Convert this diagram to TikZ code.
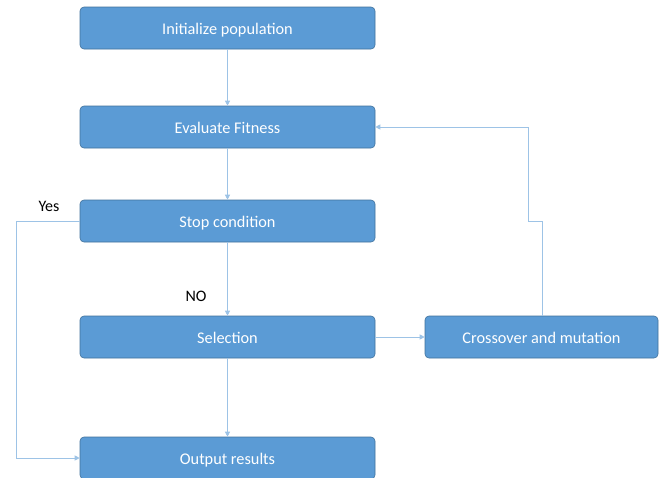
\documentclass[tikz,border=0pt]{standalone}
\usepackage{fontspec}
\setmainfont{Carlito}
\usetikzlibrary{arrows.meta}
\definecolor{boxfill}{HTML}{5B9BD5}
\definecolor{boxline}{HTML}{41719C}
\definecolor{conn}{HTML}{9DC3E6}
\begin{document}
\begin{tikzpicture}[x=1pt,y=-1pt,
  box/.style={draw=boxline,line width=0.6pt,fill=boxfill,rounded corners=4pt,text=white,font=\fontsize{16.3}{18}\selectfont,inner sep=0pt,text height=15pt,text depth=3pt},
  mainbox/.style={box,minimum width=295pt,minimum height=42pt},
  conline/.style={draw=conn,line width=0.9pt,-{Triangle[width=5pt,length=5pt]}},
  lab/.style={font=\fontsize{16}{18}\selectfont,text=black}]
\useasboundingbox (0,0) rectangle (666,477);
\node[mainbox] (init) at (227.5,28) {Initialize population};
\node[mainbox] (eval) at (227.5,127) {Evaluate Fitness};
\node[mainbox] (stop) at (227.5,221) {Stop condition};
\node[mainbox] (sel) at (227.5,337) {Selection};
\node[box,minimum width=233pt,minimum height=42pt] (cross) at (541.5,337) {Crossover and mutation};
\node[mainbox] (out) at (227.5,458) {Output results};
\node[lab] (yes) at (49,206) {Yes};
\node[lab] (no) at (196,296) {NO};
\coordinate (yl1) at (16,221);
\coordinate (yl2) at (16,458);
\coordinate (c1) at (542,221);
\coordinate (c2) at (528,221);
\coordinate (c3) at (528,127);
\draw[conline] (init) -- (eval);
\draw[conline] (eval) -- (stop);
\draw[conline] (stop) -- (sel);
\draw[conline] (sel) -- (out);
\draw[conline] (sel) -- (cross);
\draw[conline] (stop.west) -- (yl1) -- (yl2) -- (out.west);
\draw[conline] (cross.north -| c1) -- (c1) -- (c2) -- (c3) -- (eval.east);
\end{tikzpicture}
\end{document}
